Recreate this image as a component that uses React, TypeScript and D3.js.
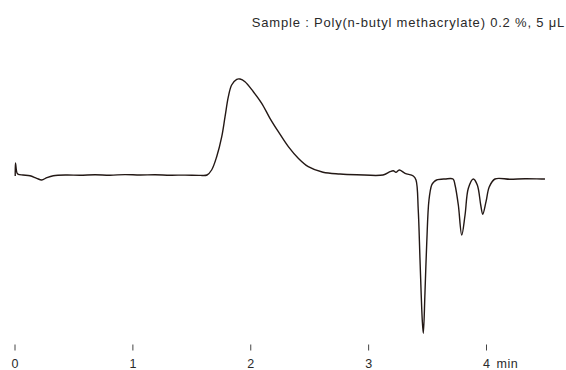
import React from "react";
import * as d3 from "d3";

const times: number[] = [
  0.002, 0.004, 0.017, 0.028, 0.068, 0.127, 0.184, 0.227, 0.269, 0.325, 0.439, 0.551, 0.679, 0.806, 0.933,
  1.06, 1.188, 1.315, 1.442, 1.569, 1.629, 1.668, 1.711, 1.754, 1.782, 1.81, 1.838, 1.881, 1.909, 1.951,
  2.022, 2.093, 2.163, 2.234, 2.319, 2.403, 2.488, 2.613, 2.757, 2.899, 3.122, 3.181, 3.209, 3.232, 3.26,
  3.309, 3.379, 3.402, 3.421, 3.436, 3.455, 3.464, 3.478, 3.493, 3.512, 3.535, 3.553, 3.577, 3.648, 3.716, 3.733,
  3.761, 3.79, 3.818, 3.846, 3.888, 3.922, 3.951, 3.968, 3.996, 4.024, 4.072, 4.199, 4.327, 4.468, 4.496,
];

const signal: number[] = [
  -1, 12, 2, 0.7, 0, -0.7, -3.3, -5, -2.7, -0.7, 0, -0.3, 0.2, -0.2, 0.4,
  0, 0.3, -0.2, -0.1, -0.4, 0, 5, 18.3, 38.3, 58.3, 78.3, 90, 95.7, 96, 93.3,
  83.3, 71.7, 56.7, 43.3, 28.3, 16.7, 8.3, 2.7, 1, 0.3, 0, 3.3, 4.3, 2.7, 5,
  1.7, -1, -5, -35, -85, -145, -158.3, -118, -68, -25, -10, -7, -5, -4, -4, -10,
  -30, -60, -40, -13.3, -4, -10, -30, -39.3, -26.7, -11.7, -4, -4.3, -3.8, -4, -4,
];

const tickValues: number[] = [0, 1, 2, 3, 4];
const tickLabels: string[] = ["0", "1", "2", "3", "4"];
const unitLabel = "min";
const title = "Sample : Poly(n-butyl methacrylate) 0.2 %, 5 μL";

export default function App() {
  const W = 566;
  const H = 370;
  const x = d3.scaleLinear().domain([0, 4]).range([15, 486.5]);
  const y = d3.scaleLinear().domain([-160, 100]).range([335, 75]);
  const pts: [number, number][] = times.map((t, i) => [t, signal[i]]);
  const line = d3
    .line<[number, number]>()
    .x((d) => x(d[0]))
    .y((d) => y(d[1]))
    .curve(d3.curveCatmullRom.alpha(0.5));
  const ink = "#231815";
  const font = "'Liberation Sans', Arial, Helvetica, sans-serif";
  return (
    <svg
      width={W}
      height={H}
      style={{ position: "absolute", left: 0, top: 0, background: "#fff" }}
    >
      <text
        x={565}
        y={26.5}
        textAnchor="end"
        fontFamily={font}
        fontSize={13}
        letterSpacing={0.8}
        fill="#2a2a2a"
      >
        {title}
      </text>
      <path d={line(pts) || ""} fill="none" stroke={ink} strokeWidth={1.4} strokeLinejoin="round" />
      {tickValues.map((v, i) => (
        <g key={v}>
          <line x1={x(v)} x2={x(v)} y1={344.5} y2={350.5} stroke="#444" strokeWidth={1} />
          <text
            x={x(v)}
            y={367.5}
            textAnchor="middle"
            fontFamily={font}
            fontSize={12.5}
            fill="#2a2a2a"
          >
            {tickLabels[i]}
          </text>
        </g>
      ))}
      <text x={x(4) + 10} y={367.5} fontFamily={font} fontSize={12.5} letterSpacing={0.5} fill="#2a2a2a">
        {unitLabel}
      </text>
    </svg>
  );
}
